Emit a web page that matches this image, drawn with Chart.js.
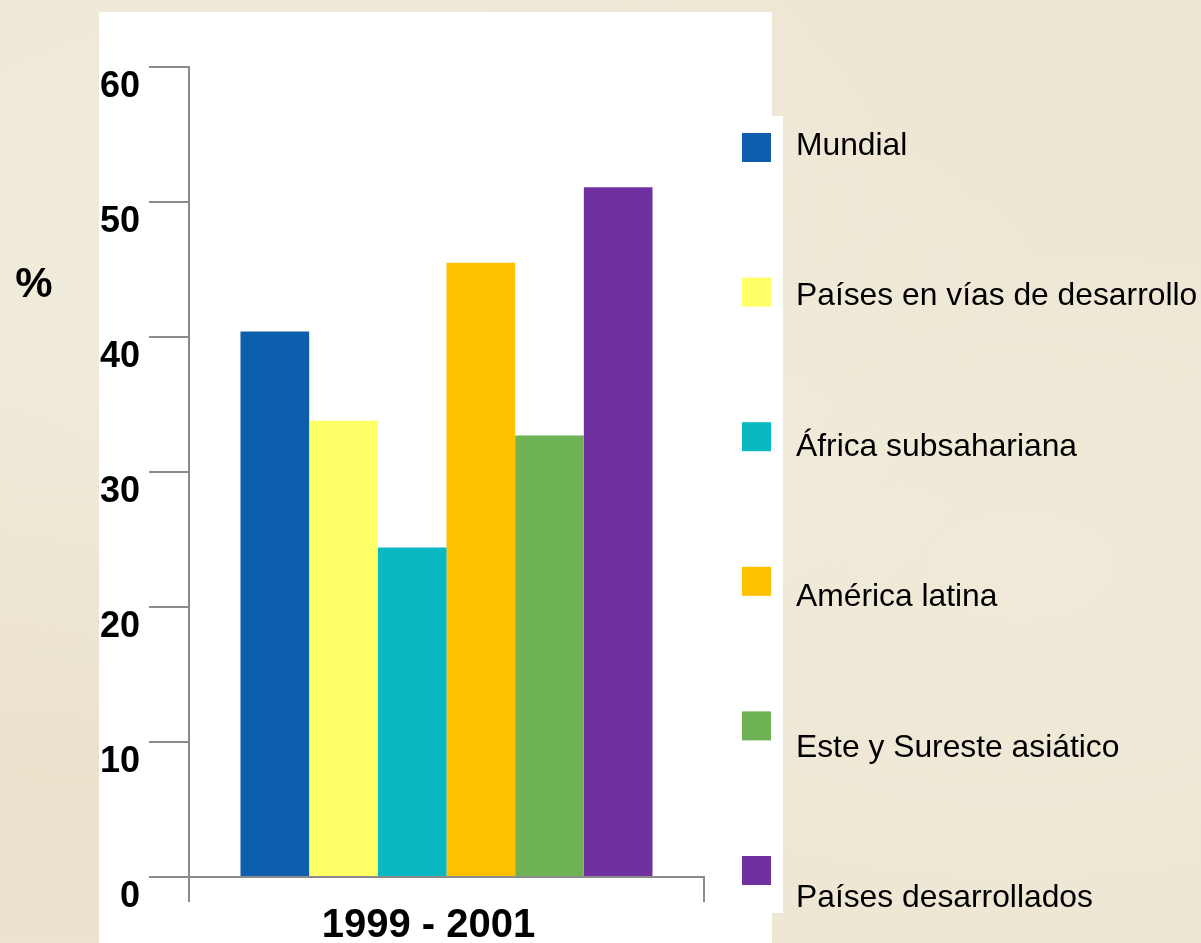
<!DOCTYPE html>
<html>
<head>
<meta charset="utf-8">
<script src="https://cdn.jsdelivr.net/npm/chart.js@4.4.1/dist/chart.umd.min.js"></script>
<style>
  html, body { margin: 0; padding: 0; }
  body {
    width: 1201px; height: 943px; overflow: hidden; position: relative;
    background: #ede6d3;
    background-image:
      radial-gradient(ellipse at 20% 30%, rgba(245,240,226,0.6), rgba(245,240,226,0) 60%),
      radial-gradient(ellipse at 85% 60%, rgba(242,236,220,0.6), rgba(242,236,220,0) 55%),
      radial-gradient(ellipse at 5% 80%, rgba(228,216,190,0.4), rgba(228,216,190,0) 40%);
  }
  .panel { position: absolute; background: #fff; }
  #wrap { position: absolute; left: 0; top: 0; width: 1201px; height: 943px; }
</style>
</head>
<body>
<div class="panel" style="left:99px; top:12px; width:673px; height:931px;"></div>
<div class="panel" style="left:700px; top:116px; width:83px; height:797px;"></div>
<div id="wrap"><canvas id="chart" width="1201" height="943"></canvas></div>

<script>
// values
const categories = ['1999 - 2001'];
const seriesNames = [
    'Mundial',
    'Países en vías de desarrollo',
    'África subsahariana',
    'América latina',
    'Este y Sureste asiático',
    'Países desarrollados'
];
const seriesValues = [40.4, 33.8, 24.4, 45.5, 32.7, 51.1];
const seriesColors = ['#0D5FAD', '#FFFF66', '#09B8C0', '#FFC000', '#6FB155', '#7030A0'];
const yMin = 0, yMax = 60, yStep = 10;
const yUnit = '%';

const FONT = "'Liberation Sans', Arial, sans-serif";

// legend and the "%" label, drawn on the canvas
const extras = {
    id: 'extras',
    afterDraw(chart) {
        const ctx = chart.ctx;
        ctx.save();
        ctx.fillStyle = '#000';
        ctx.font = 'bold 42px ' + FONT;
        ctx.textAlign = 'center';
        ctx.textBaseline = 'middle';
        ctx.fillText(yUnit, 34, 285);

        ctx.font = '31.8px ' + FONT;
        ctx.textAlign = 'left';
        chart.data.datasets.forEach((ds, i) => {
            const by = 133 + i * 144.6;
            ctx.fillStyle = ds.backgroundColor;
            ctx.fillRect(742, by, 29, 29);
            ctx.fillStyle = '#000';
            ctx.fillText(ds.label, 796, 146 + i * 150.5);
        });
        ctx.restore();
    }
};

const datasets = seriesNames.map((name, i) => ({
    label: name,
    data: [seriesValues[i]],
    backgroundColor: seriesColors[i],
    borderWidth: 0,
    categoryPercentage: 0.8,
    barPercentage: 1.0
}));

new Chart(document.getElementById('chart'), {
    type: 'bar',
    data: { labels: categories, datasets: datasets },
    plugins: [extras],
    options: {
        responsive: false,
        animation: false,
        layout: { padding: { left: 0, top: 67, right: 497, bottom: 0 } },
        plugins: {
            legend: { display: false },
            tooltip: { enabled: false }
        },
        scales: {
            x: {
                afterFit: (scale) => { scale.height = 66; },
                grid: {
                    offset: true,
                    drawOnChartArea: false,
                    tickLength: 25,
                    color: '#8a8a8a',
                    lineWidth: 2
                },
                border: { color: '#8a8a8a', width: 2 },
                ticks: {
                    color: '#000',
                    font: { family: FONT, size: 40, weight: 'bold' },
                    padding: 0,
                    labelOffset: -18
                }
            },
            y: {
                min: yMin,
                max: yMax,
                afterFit: (scale) => { scale.width = 189; },
                grid: {
                    drawOnChartArea: false,
                    tickLength: 40,
                    color: '#8a8a8a',
                    lineWidth: 2
                },
                border: { color: '#8a8a8a', width: 2 },
                ticks: {
                    stepSize: yStep,
                    color: '#000',
                    font: { family: FONT, size: 36, weight: 'bold' },
                    padding: 9,
                    labelOffset: 20
                }
            }
        }
    }
});
</script>
</body>
</html>
